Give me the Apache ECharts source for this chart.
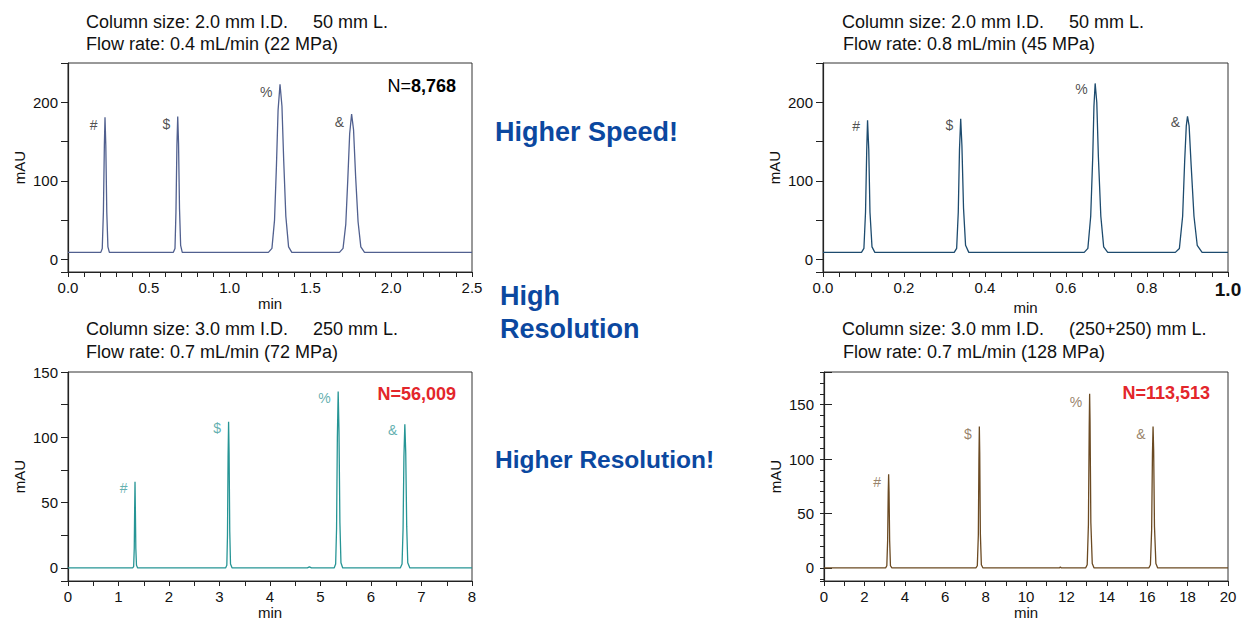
<!DOCTYPE html>
<html>
<head>
<meta charset="utf-8">
<title>Column size vs speed and resolution</title>
<script src="https://cdn.jsdelivr.net/npm/echarts@6/dist/echarts.min.js"></script>
<style>
html, body { margin: 0; padding: 0; background: #fff; }
#main { width: 1245px; height: 621px; }
</style>
</head>
<body>
<div id="main"></div>
<script>
const FONT = '"Liberation Sans", Arial, Helvetica, sans-serif'

// peak names, same order in every run
const peakNames = ['#', '$', '%', '&']

// 2.0 mm x 50 mm, 0.4 mL/min  -> [min, mAU]
const traceFastLow = [
  [0, 9],
  [0.203, 9], [0.212, 14], [0.219, 60], [0.225, 145], [0.229, 181], [0.234, 145], [0.240, 60], [0.247, 16], [0.256, 9],
  [0.652, 9], [0.662, 14], [0.668, 60], [0.674, 145], [0.679, 182], [0.684, 148], [0.690, 65], [0.697, 18], [0.707, 9],
  [1.240, 9], [1.262, 14], [1.278, 50], [1.290, 120], [1.300, 190], [1.312, 223], [1.324, 195], [1.335, 125], [1.348, 55], [1.365, 16], [1.385, 9],
  [1.680, 9], [1.702, 14], [1.719, 45], [1.731, 100], [1.743, 160], [1.755, 185], [1.767, 165], [1.780, 105], [1.795, 48], [1.812, 16], [1.835, 9],
  [2.5, 9]
]
const apexFastLow = [[0.229, 181], [0.679, 182], [1.312, 223], [1.755, 185]]

// 2.0 mm x 50 mm, 0.8 mL/min
const traceFastHigh = [
  [0, 9],
  [0.095, 9], [0.101, 14], [0.105, 60], [0.108, 140], [0.110, 177], [0.113, 140], [0.116, 60], [0.121, 16], [0.128, 9],
  [0.324, 9], [0.330, 14], [0.334, 60], [0.337, 140], [0.340, 179], [0.343, 145], [0.347, 65], [0.352, 18], [0.360, 9],
  [0.645, 9], [0.654, 14], [0.661, 55], [0.666, 130], [0.669, 195], [0.672, 224], [0.676, 200], [0.680, 130], [0.686, 55], [0.693, 16], [0.703, 9],
  [0.870, 9], [0.880, 14], [0.888, 55], [0.893, 125], [0.897, 170], [0.900, 182], [0.904, 170], [0.909, 120], [0.916, 55], [0.924, 18], [0.936, 9],
  [1.0, 9]
]
const apexFastHigh = [[0.110, 177], [0.340, 179], [0.672, 224], [0.900, 182]]

// 3.0 mm x 250 mm, 0.7 mL/min
const traceLong250 = [
  [0, 0],
  [1.280, 0], [1.300, 1], [1.312, 15], [1.320, 45], [1.327, 66], [1.334, 45], [1.343, 15], [1.356, 2], [1.380, 0],
  [3.120, 0], [3.145, 2], [3.158, 25], [3.170, 85], [3.180, 112], [3.190, 88], [3.203, 28], [3.218, 3], [3.250, 0],
  [4.740, 0], [4.780, 0.8], [4.820, 0],
  [5.270, 0], [5.300, 3], [5.318, 30], [5.334, 100], [5.350, 135], [5.366, 105], [5.384, 35], [5.405, 4], [5.440, 0],
  [6.580, 0], [6.615, 3], [6.635, 30], [6.652, 85], [6.670, 110], [6.688, 88], [6.707, 32], [6.728, 4], [6.770, 0],
  [8, 0]
]
const apexLong250 = [[1.327, 66], [3.180, 112], [5.350, 135], [6.670, 110]]

// 3.0 mm x (250+250) mm, 0.7 mL/min
const traceLong500 = [
  [0, 0],
  [3.05, 0], [3.11, 2], [3.15, 25], [3.18, 70], [3.20, 86], [3.22, 70], [3.25, 25], [3.29, 2], [3.36, 0],
  [7.52, 0], [7.59, 2], [7.64, 30], [7.67, 100], [7.69, 130], [7.71, 105], [7.74, 32], [7.79, 3], [7.87, 0],
  [11.65, 0], [11.70, 0.8], [11.75, 0],
  [12.95, 0], [13.03, 3], [13.09, 40], [13.13, 130], [13.15, 160], [13.17, 135], [13.21, 42], [13.28, 4], [13.37, 0],
  [16.08, 0], [16.16, 3], [16.22, 35], [16.26, 105], [16.29, 130], [16.32, 108], [16.36, 38], [16.43, 4], [16.52, 0],
  [20, 0]
]
const apexLong500 = [[3.20, 86], [7.69, 130], [13.15, 160], [16.29, 130]]

// tick labels
const xLabelsFastLow = [0, 0.5, 1.0, 1.5, 2.0, 2.5]
const xLabelsFastHigh = [0, 0.2, 0.4, 0.6, 0.8, 1.0]
const xLabelsLong250 = [0, 1, 2, 3, 4, 5, 6, 7, 8]
const xLabelsLong500 = [0, 2, 4, 6, 8, 10, 12, 14, 16, 18, 20]
const yLabelsFast = [0, 100, 200]
const yLabelsLong250 = [0, 50, 100, 150]
const yLabelsLong500 = [0, 50, 100, 150]

const panels = [
  {
    grid: { left: 68, top: 63, width: 404, height: 209 },
    x: { min: 0, max: 2.5, step: 0.1, labels: xLabelsFastLow, digits: 1 },
    y: { min: -16, max: 250, step: 50, labels: yLabelsFast },
    trace: traceFastLow, apex: apexFastLow,
    color: '#51608f', labelColor: '#222', labelOffset: [0, 8]
  },
  {
    grid: { left: 823, top: 63, width: 405, height: 209 },
    x: { min: 0, max: 1.0, step: 0.04, labels: xLabelsFastHigh, digits: 1, boldLast: true },
    y: { min: -16, max: 250, step: 50, labels: yLabelsFast },
    trace: traceFastHigh, apex: apexFastHigh,
    color: '#1d4b6e', labelColor: '#222', labelOffset: [0, 6]
  },
  {
    grid: { left: 68, top: 372, width: 404, height: 209 },
    x: { min: 0, max: 8, step: 0.5, labels: xLabelsLong250, digits: 0 },
    y: { min: -10, max: 150, step: 25, labels: yLabelsLong250 },
    trace: traceLong250, apex: apexLong250,
    color: '#269595', labelColor: '#3a9b9b', labelOffset: [0, 6]
  },
  {
    grid: { left: 824, top: 372, width: 404, height: 209 },
    x: { min: 0, max: 20, step: 1, labels: xLabelsLong500, digits: 0 },
    y: { min: -12, max: 180, step: 10, labels: yLabelsLong500, majorStep: 50 },
    trace: traceLong500, apex: apexLong500,
    color: '#6b4a22', labelColor: '#7d6244', labelOffset: [0, 8]
  }
]

const axisColor = '#222'
const onList = (list, v) => list.some(l => Math.abs(l - v) < 1e-6)

const grid = []
const xAxis = []
const yAxis = []
const series = []

panels.forEach((p, i) => {
  grid.push({
    ...p.grid,
    show: true,
    borderColor: '#333',
    borderWidth: 1
  })

  xAxis.push({
    gridIndex: i,
    type: 'value',
    min: p.x.min,
    max: p.x.max,
    interval: p.x.step,
    name: 'min',
    nameLocation: 'middle',
    nameGap: 24,
    nameTextStyle: { fontFamily: FONT, fontSize: 15, color: '#111' },
    axisLine: { onZero: false, lineStyle: { color: axisColor, width: 1.2 } },
    axisTick: { length: 5, lineStyle: { color: axisColor } },
    axisLabel: {
      margin: 8,
      fontFamily: FONT,
      fontSize: 15,
      color: '#111',
      showMinLabel: true,
      showMaxLabel: true,
      formatter: v => {
        if (!onList(p.x.labels, v)) return ''
        const txt = v.toFixed(p.x.digits)
        if (p.x.boldLast && Math.abs(v - p.x.max) < 1e-6) return '{b|' + txt + '}'
        return txt
      },
      rich: { b: { fontFamily: FONT, fontSize: 19, fontWeight: 'bold', color: '#111' } }
    },
    splitLine: { show: false }
  })

  yAxis.push({
    gridIndex: i,
    type: 'value',
    min: p.y.min,
    max: p.y.max,
    minInterval: p.y.step,
    maxInterval: p.y.step,
    name: 'mAU',
    nameLocation: 'middle',
    nameGap: 41,
    nameTextStyle: { fontFamily: FONT, fontSize: 15, color: '#111' },
    axisLine: { onZero: false, lineStyle: { color: axisColor, width: 1.2 } },
    axisTick: { length: p.y.majorStep ? 4 : 7, lineStyle: { color: axisColor } },
    axisLabel: {
      margin: 10,
      fontFamily: FONT,
      fontSize: 15,
      color: '#111',
      formatter: v => (onList(p.y.labels, v) ? String(Math.round(v)) : '')
    },
    splitLine: { show: false }
  })

  series.push({
    type: 'line',
    xAxisIndex: i,
    yAxisIndex: yAxis.length - 1,
    data: p.trace,
    showSymbol: false,
    symbol: 'none',
    lineStyle: { color: p.color, width: 1.3 },
    silent: true,
    z: 3
  })

  series.push({
    type: 'scatter',
    xAxisIndex: i,
    yAxisIndex: yAxis.length - 1,
    data: p.apex.map((a, k) => ({ name: peakNames[k], value: a })),
    symbolSize: 1,
    itemStyle: { color: 'rgba(0,0,0,0)' },
    label: {
      show: true,
      position: 'left',
      distance: 7,
      offset: p.labelOffset,
      formatter: '{b}',
      fontFamily: FONT,
      fontSize: 14,
      color: p.labelColor
    },
    silent: true,
    z: 4
  })

  // longer ticks at the labelled values
  if (p.y.majorStep) {
    yAxis.push({
      gridIndex: i,
      type: 'value',
      min: p.y.min,
      max: p.y.max,
      minInterval: p.y.majorStep,
      maxInterval: p.y.majorStep,
      axisLine: { show: false },
      axisTick: { length: 8, lineStyle: { color: axisColor } },
      axisLabel: { show: false },
      splitLine: { show: false }
    })
  }
})

const titleStyle = { fontFamily: FONT, fontSize: 18, fill: '#111' }
const blue = '#0b48a0'

function txt(left, top, text, style) {
  return { type: 'text', left, top, style: { text, ...style } }
}

const graphic = [
  txt(86, 13, 'Column size: 2.0 mm I.D.     50 mm L.', titleStyle),
  txt(86, 35, 'Flow rate: 0.4 mL/min (22 MPa)', titleStyle),
  txt(842, 13, 'Column size: 2.0 mm I.D.     50 mm L.', titleStyle),
  txt(843, 35, 'Flow rate: 0.8 mL/min (45 MPa)', titleStyle),
  txt(86, 320, 'Column size: 3.0 mm I.D.     250 mm L.', titleStyle),
  txt(86, 343, 'Flow rate: 0.7 mL/min (72 MPa)', titleStyle),
  txt(842, 320, 'Column size: 3.0 mm I.D.     (250+250) mm L.', titleStyle),
  txt(843, 343, 'Flow rate: 0.7 mL/min (128 MPa)', titleStyle),

  txt(495, 118, 'Higher Speed!', { fontFamily: FONT, fontSize: 27, fontWeight: 'bold', fill: blue }),
  txt(500, 282, 'High', { fontFamily: FONT, fontSize: 27, fontWeight: 'bold', fill: blue }),
  txt(500, 315, 'Resolution', { fontFamily: FONT, fontSize: 27, fontWeight: 'bold', fill: blue }),
  txt(495, 447, 'Higher Resolution!', { fontFamily: FONT, fontSize: 24.5, fontWeight: 'bold', fill: blue }),

  {
    type: 'text',
    right: 1245 - 456,
    top: 77,
    style: {
      text: '{n|N=}{v|8,768}',
      rich: {
        n: { fontFamily: FONT, fontSize: 18, color: '#111' },
        v: { fontFamily: FONT, fontSize: 18, fontWeight: 'bold', color: '#111' }
      }
    }
  },
  {
    type: 'text',
    right: 1245 - 456,
    top: 385,
    style: { text: 'N=56,009', fontFamily: FONT, fontSize: 18, fontWeight: 'bold', fill: '#e3262b' }
  },
  {
    type: 'text',
    right: 1245 - 1210,
    top: 384,
    style: { text: 'N=113,513', fontFamily: FONT, fontSize: 18, fontWeight: 'bold', fill: '#e3262b' }
  }
]

const chart = echarts.init(document.getElementById('main'), null, { renderer: 'svg' })
chart.setOption({
  animation: false,
  backgroundColor: '#fff',
  grid,
  xAxis,
  yAxis,
  series,
  graphic
})
</script>
</body>
</html>
